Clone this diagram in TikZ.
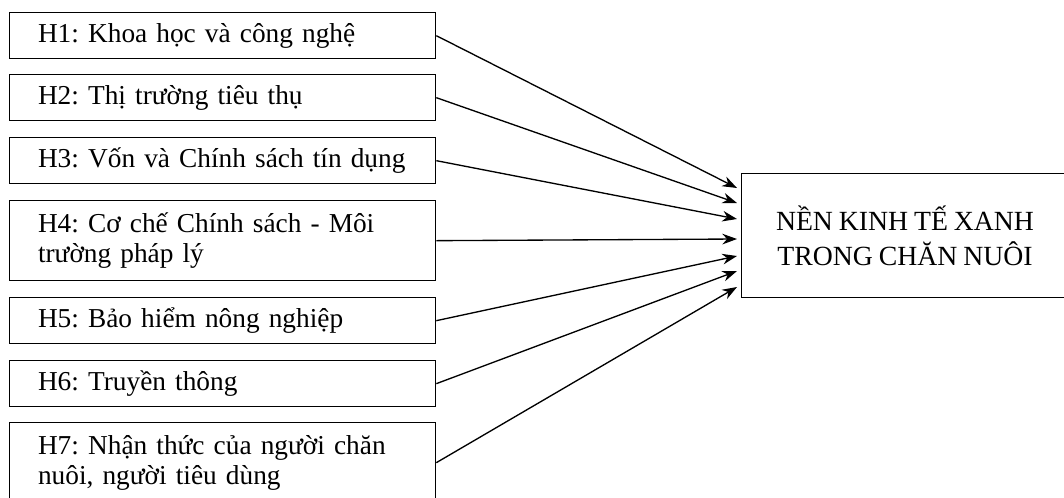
\documentclass[tikz,border=0pt]{standalone}
\usepackage{fontspec}
\setmainfont{Liberation Serif}[WordSpace=0.85]
\usetikzlibrary{arrows.meta}
\frenchspacing
\begin{document}
\begin{tikzpicture}[x=0.75pt,y=-0.75pt,
  factor/.style={draw, line width=1pt, rectangle, anchor=north west,
    minimum width=319.5pt, text width=277pt, inner xsep=21.25pt, inner ysep=0pt,
    align=left, font=\fontsize{20.5}{22.5}\selectfont},
  goal/.style={draw, line width=1pt, rectangle, anchor=north west,
    minimum width=245pt, minimum height=93pt, align=center,
    font=\fontsize{20.8}{26}\selectfont},
  link/.style={line width=1pt, -{Stealth[length=11pt,width=8pt]}}]
\useasboundingbox (0,0) rectangle (1064,497);
% influencing factors
\node[factor, minimum height=34.5pt] (h1) at (9,12) {H1: Khoa học và công nghệ};
\node[factor, minimum height=34.5pt] (h2) at (9,74) {H2: Thị trường tiêu thụ};
\node[factor, minimum height=34.5pt] (h3) at (9,137) {H3: Vốn và Chính sách tín dụng};
\node[factor, minimum height=60pt] (h4) at (9,200) {H4: Cơ chế Chính sách - Môi\\trường pháp lý};
\node[factor, minimum height=34.5pt] (h5) at (9,297) {H5: Bảo hiểm nông nghiệp};
\node[factor, minimum height=34.5pt] (h6) at (9,360) {H6: Truyền thông};
\node[factor, minimum height=60pt] (h7) at (9,422) {H7: Nhận thức của người chăn\\nuôi, người tiêu dùng};
% outcome
\node[goal] (goal) at (741,173) {NỀN KINH TẾ XANH\\TRONG CHĂN NUÔI};
% arrow end points along the outcome box
\coordinate (t1) at (737,188);
\coordinate (t2) at (737,203);
\coordinate (t3) at (737,219);
\coordinate (t4) at (737,239);
\coordinate (t5) at (737,256);
\coordinate (t6) at (737,271);
\coordinate (t7) at (737,287);
\foreach \i in {1,...,7} \draw[link] (h\i.east) -- (t\i);
\end{tikzpicture}
\end{document}
